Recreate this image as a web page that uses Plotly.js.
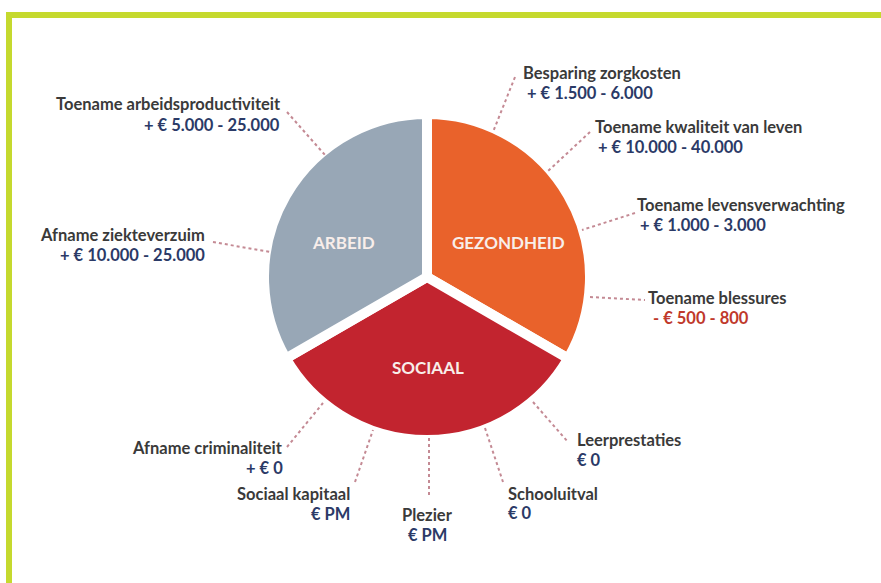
<!DOCTYPE html>
<html>
<head>
<meta charset="utf-8">
<script src="https://cdn.plot.ly/plotly-3.0.1.min.js"></script>
<style>html,body{margin:0;padding:0;background:#fff;}#chart{width:881px;height:583px;}</style>
</head>
<body>
<div id="chart"></div>
<script>
// ---- data ----
const categories = ['GEZONDHEID', 'SOCIAAL', 'ARBEID'];
const shares = [1, 1, 1];
const sliceColors = ['#e9622b', '#c2242f', '#98a7b6'];

const effectLabels = [
  'Toename arbeidsproductiviteit',
  'Afname ziekteverzuim',
  'Besparing zorgkosten',
  'Toename kwaliteit van leven',
  'Toename levensverwachting',
  'Toename blessures',
  'Leerprestaties',
  'Schooluitval',
  'Plezier',
  'Sociaal kapitaal',
  'Afname criminaliteit'
];
const effectValues = [
  '+ € 5.000 - 25.000',
  '+ € 10.000 - 25.000',
  '+ € 1.500 - 6.000',
  '+ € 10.000 - 40.000',
  '+ € 1.000 - 3.000',
  '- € 500 - 800',
  '€ 0',
  '€ 0',
  '€ PM',
  '€ PM',
  '+ € 0'
];
const effectSign = ['pos','pos','pos','pos','pos','neg','pos','pos','pos','pos','pos'];

// ---- layout (pixel positions) ----
const W = 881, H = 583;
const px = x => x / W;
const py = y => 1 - y / H;

const labelPos = [
  [282, 104, 'right'], [206, 235, 'right'], [522, 73, 'left'], [594, 127, 'left'],
  [636, 205, 'left'], [647, 298, 'left'], [576, 440, 'left'], [507, 494, 'left'],
  [427, 515, 'center'], [351, 494, 'right'], [284, 448, 'right']
];
const valuePos = [
  [281, 125], [206, 255], [526, 93], [597, 147],
  [639, 225], [652, 318], [576, 460], [507, 513],
  [427, 535], [351, 514], [284, 468]
];
const leaderLines = [
  [287,112,325,155], [213,242,270,252], [515,77,493,132], [590,132,547,172],
  [635,213,582,230], [590,297,645,300], [533,402,568,442], [485,428,503,482],
  [429,438,429,497], [355,482,373,430], [287,447,323,403]
];
const sliceLabelPos = [[508, 242], [428, 367], [343, 242]];

const cx = 427, cy = 277, R = 163;

const FONT = 'Lato, "Open Sans", sans-serif';
const labelColor = '#3a3a3a';
const valueColor = '#2b3a67';
const negColor = '#c0392b';
const leaderColor = '#c48a94';

const annotations = [];
effectLabels.forEach((t, i) => {
  const [x, y, a] = labelPos[i];
  annotations.push({
    text: '<b>' + t + '</b>', xref: 'paper', yref: 'paper', x: px(x), y: py(y),
    xanchor: a, yanchor: 'middle', showarrow: false, borderpad: 0,
    font: {family: FONT, size: 16.5, color: labelColor}
  });
  const [vx, vy] = valuePos[i];
  annotations.push({
    text: '<b>' + effectValues[i] + '</b>', xref: 'paper', yref: 'paper', x: px(vx), y: py(vy),
    xanchor: a, yanchor: 'middle', showarrow: false, borderpad: 0,
    font: {family: FONT, size: 16.5, color: effectSign[i] === 'neg' ? negColor : valueColor}
  });
});
categories.forEach((c, i) => {
  annotations.push({
    text: '<b>' + c + '</b>', xref: 'paper', yref: 'paper',
    x: px(sliceLabelPos[i][0]), y: py(sliceLabelPos[i][1]),
    xanchor: 'center', yanchor: 'middle', showarrow: false,
    font: {family: FONT, size: 17, color: '#f8eeea'}
  });
});

const shapes = leaderLines.map(l => ({
  type: 'line', xref: 'paper', yref: 'paper',
  x0: px(l[0]), y0: py(l[1]), x1: px(l[2]), y1: py(l[3]),
  line: {color: leaderColor, width: 2, dash: '3px,3px'}
}));
// lime frame
shapes.push({
  type: 'rect', xref: 'paper', yref: 'paper',
  x0: px(9), y0: py(15), x1: px(900), y1: py(600),
  line: {color: '#c5d92e', width: 6}, fillcolor: 'rgba(0,0,0,0)'
});

const trace = {
  type: 'pie',
  labels: categories,
  values: shares,
  sort: false,
  direction: 'clockwise',
  rotation: 0,
  textinfo: 'none',
  hoverinfo: 'none',
  marker: {colors: sliceColors, line: {color: '#ffffff', width: 10}},
  domain: {x: [px(cx - R), px(cx + R)], y: [py(cy + R), py(cy - R)]},
  showlegend: false
};

const layout = {
  width: W, height: H,
  margin: {l: 0, r: 0, t: 0, b: 0},
  paper_bgcolor: '#ffffff',
  plot_bgcolor: '#ffffff',
  showlegend: false,
  annotations: annotations,
  shapes: shapes
};

Plotly.newPlot('chart', [trace], layout, {displayModeBar: false, staticPlot: true});
</script>
</body>
</html>
